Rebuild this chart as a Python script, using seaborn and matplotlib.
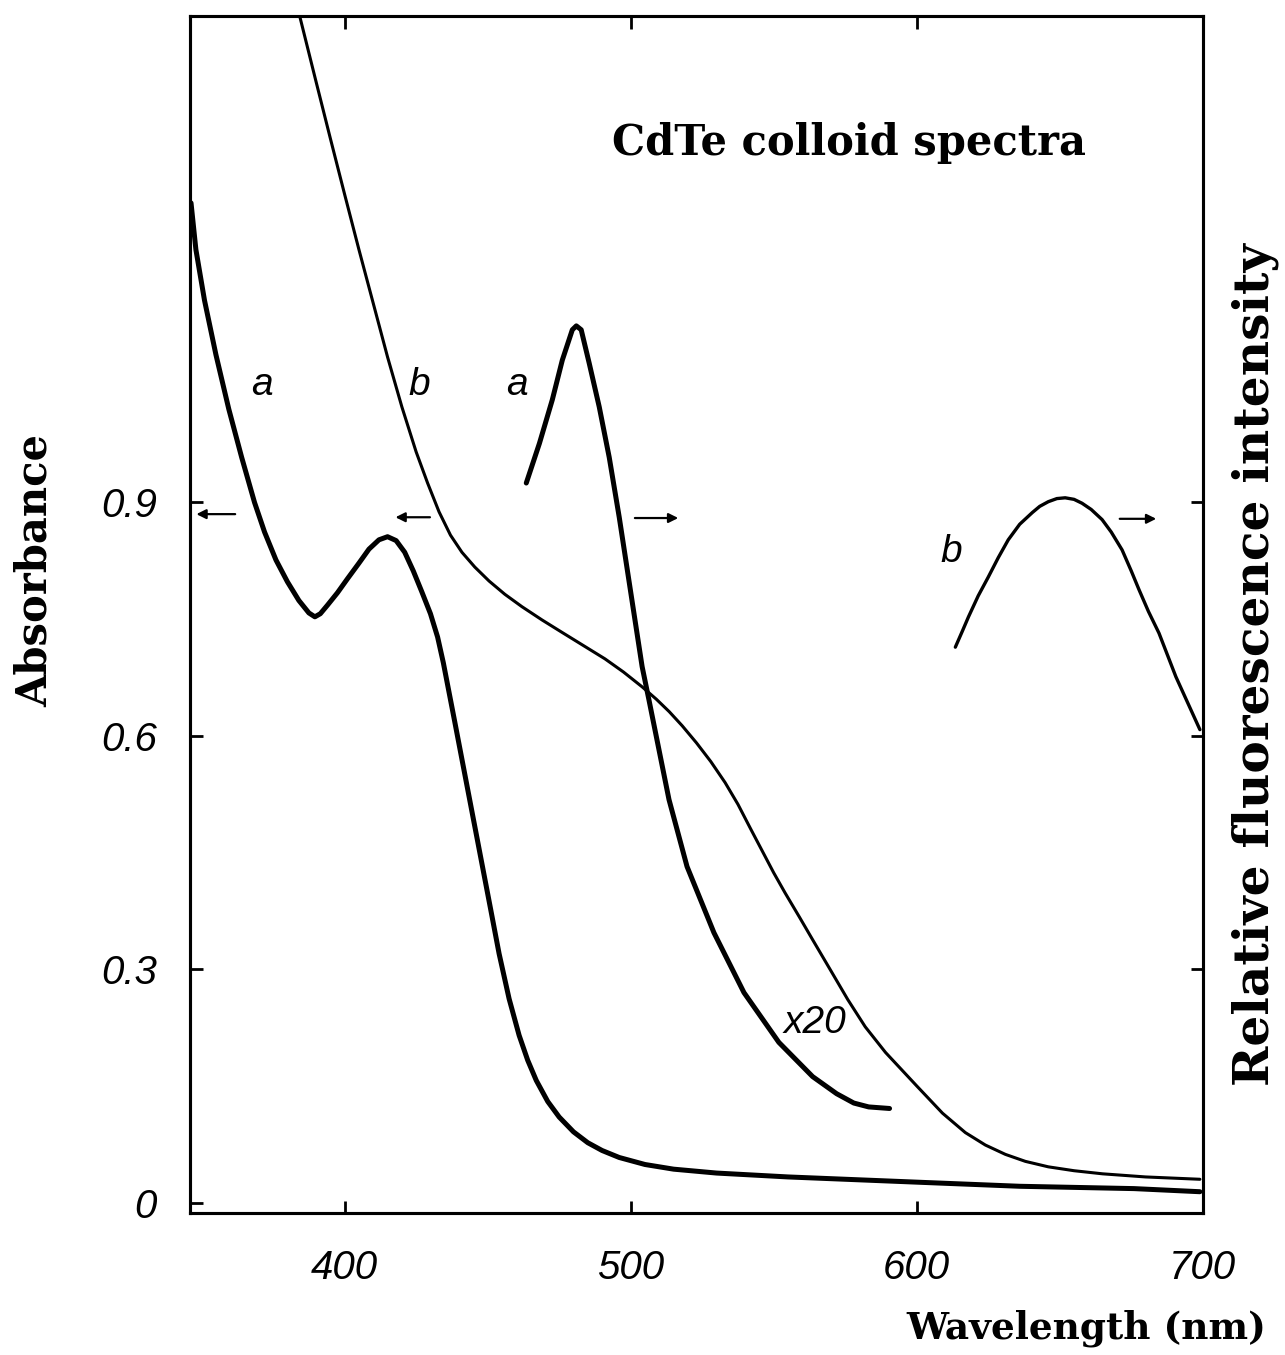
import matplotlib
matplotlib.use("Agg")
import matplotlib.pyplot as plt
import seaborn as sns

sns.set_theme(style="ticks")
plt.rcParams['font.family'] = ['DejaVu Sans']
plt.rcParams.update({"text.color": "black", "axes.labelcolor": "black",
                     "xtick.color": "black", "ytick.color": "black",
                     "axes.edgecolor": "black"})

# Absorbance spectrum a (small particles, thick line)
wl_abs_a = [346.3, 348.0, 351.0, 355.0, 359.5, 364.0, 368.5, 372.0, 376.0, 380.0,
            384.0, 387.5, 389.6, 391.5, 394.0, 397.5, 401.0, 405.0, 408.5, 412.0,
            415.0, 418.0, 421.0, 424.0, 427.0, 430.0, 432.5, 434.5, 436.5, 438.5,
            441.0, 443.5, 446.0, 448.5, 451.0, 454.0, 457.5, 461.0, 464.0, 467.0,
            471.0, 475.0, 480.0, 485.0, 490.0, 496.0, 505.0, 515.0, 530.0, 555.0,
            602.0, 636.0, 676.0, 699.0]
abs_a = [1.285, 1.225, 1.160, 1.090, 1.020, 0.958, 0.900, 0.862, 0.826, 0.798,
         0.774, 0.758, 0.753, 0.757, 0.768, 0.784, 0.802, 0.822, 0.840, 0.852,
         0.856, 0.851, 0.836, 0.812, 0.785, 0.757, 0.727, 0.694, 0.656, 0.618,
         0.570, 0.522, 0.474, 0.426, 0.378, 0.320, 0.262, 0.215, 0.183, 0.157,
         0.130, 0.110, 0.091, 0.077, 0.067, 0.058, 0.049, 0.043, 0.038, 0.033,
         0.026, 0.021, 0.018, 0.014]

# Absorbance spectrum b (larger particles, thin line)
wl_abs_b = [384.3, 390.0, 395.0, 400.0, 405.0, 410.0, 415.0, 420.0, 425.0, 429.0,
            433.0, 437.0, 441.0, 445.5, 450.5, 456.0, 462.0, 469.0, 476.0, 483.5,
            491.0, 497.5, 504.0, 509.0, 513.5, 518.0, 523.0, 528.0, 533.0, 537.5,
            542.0, 546.0, 550.0, 554.0, 559.0, 563.6, 570.0, 575.9, 582.0, 589.1,
            600.0, 609.0, 617.0, 624.0, 631.0, 638.0, 646.0, 655.0, 665.0, 680.0,
            699.0]
abs_b = [1.525, 1.441, 1.368, 1.296, 1.225, 1.156, 1.087, 1.023, 0.965, 0.925,
         0.888, 0.858, 0.836, 0.817, 0.799, 0.782, 0.766, 0.749, 0.733, 0.716,
         0.699, 0.682, 0.663, 0.647, 0.631, 0.613, 0.591, 0.567, 0.540, 0.512,
         0.480, 0.452, 0.424, 0.398, 0.367, 0.338, 0.298, 0.261, 0.226, 0.193,
         0.150, 0.115, 0.090, 0.074, 0.062, 0.053, 0.046, 0.041, 0.037, 0.033,
         0.030]

# Fluorescence spectrum a (scaled x20)
wl_fl_a = [463.5, 468.1, 472.6, 476.1, 479.6, 481.0, 482.7, 485.5, 489.0, 492.5,
           496.0, 499.5, 504.0, 506.4, 509.9, 513.4, 519.7, 529.1, 539.6, 551.8,
           563.6, 572.0, 578.0, 583.2, 590.5]
fl_a = [0.925, 0.976, 1.032, 1.083, 1.122, 1.127, 1.122, 1.079, 1.023, 0.958,
        0.881, 0.797, 0.689, 0.646, 0.582, 0.518, 0.432, 0.347, 0.270, 0.206,
        0.162, 0.140, 0.128, 0.123, 0.121]

# Fluorescence spectrum b
wl_fl_b = [613.5, 616.0, 618.1, 621.5, 625.0, 628.5, 632.0, 636.0, 640.4, 643.0,
           646.0, 649.0, 651.9, 655.0, 657.8, 661.0, 664.8, 668.0, 671.8, 675.0,
           677.7, 681.0, 684.7, 690.6, 699.0]
fl_b = [0.714, 0.735, 0.753, 0.780, 0.804, 0.829, 0.852, 0.872, 0.887, 0.895,
        0.901, 0.905, 0.906, 0.904, 0.899, 0.891, 0.878, 0.862, 0.839, 0.812,
        0.788, 0.760, 0.732, 0.676, 0.608]

abs_ticks = [0, 0.3, 0.6, 0.9]
abs_tick_labels = ["0", "0.3", "0.6", "0.9"]
wl_ticks = [400, 500, 600, 700]
wl_tick_labels = ["400", "500", "600", "700"]

XLIM = (346, 699.5)
YLIM = (-0.013, 1.525)

fig = plt.figure(figsize=(12.85, 13.55), dpi=100)
ax = fig.add_axes([0.148, 0.105, 0.788, 0.883])
ax2 = ax.twinx()

sns.lineplot(x=wl_abs_a, y=abs_a, ax=ax, color="black", lw=3.6, sort=False)
sns.lineplot(x=wl_abs_b, y=abs_b, ax=ax, color="black", lw=2.2, sort=False)
sns.lineplot(x=wl_fl_a, y=fl_a, ax=ax2, color="black", lw=3.6, sort=False)
sns.lineplot(x=wl_fl_b, y=fl_b, ax=ax2, color="black", lw=2.4, sort=False)

for a in (ax, ax2):
    a.set_xlim(*XLIM)
    a.set_ylim(*YLIM)
    for s in a.spines.values():
        s.set_linewidth(2.2)
        s.set_color("black")

ax.set_xticks(wl_ticks)
ax.set_xticklabels(wl_tick_labels)
ax.set_yticks(abs_ticks)
ax.set_yticklabels(abs_tick_labels)
ax.tick_params(axis="both", direction="in", length=9, width=2, color="black",
               labelsize=29, pad=24, top=True, labelcolor="black")
ax.tick_params(axis="x", pad=26)
ax2.set_yticks(abs_ticks[1:])
ax2.tick_params(axis="y", direction="in", length=9, width=2, labelright=False)
for lab in ax.get_xticklabels() + ax.get_yticklabels():
    lab.set_fontfamily("Liberation Sans")
    lab.set_fontstyle("italic")
ax.set_xlabel("")
ax.set_ylabel("")
ax2.set_ylabel("")

# Curve labels
lab_kw = dict(fontsize=28, fontstyle="italic", family="Liberation Sans",
              ha="center", va="center", color="black")
ax.text(371.1, 1.051, "a", **lab_kw)
ax.text(426.2, 1.051, "b", **lab_kw)
ax.text(460.4, 1.051, "a", **lab_kw)
ax.text(612.1, 0.836, "b", **lab_kw)
ax.text(564.3, 0.231, "x20", **lab_kw)

# Arrows pointing to the axis that each curve belongs to
arr = dict(arrowstyle="-|>", color="black", lw=1.6, mutation_scale=14)
ax.annotate("", xy=(347.2, 0.885), xytext=(362.7, 0.885), arrowprops=arr)
ax.annotate("", xy=(416.8, 0.881), xytext=(430.8, 0.881), arrowprops=arr)
ax.annotate("", xy=(517.6, 0.880), xytext=(500.5, 0.880), arrowprops=arr)
ax.annotate("", xy=(684.7, 0.879), xytext=(670.0, 0.879), arrowprops=arr)

ax.text(576.2, 1.362, "CdTe colloid spectra", fontsize=30, fontweight="bold",
        family="DejaVu Serif", ha="center", va="center", color="black")

fig.text(1266 / 1285, 1 - 1328 / 1355, "Wavelength (nm)", fontsize=27,
         fontweight="bold", family="DejaVu Serif", ha="right", va="center",
         color="black")
fig.text(35 / 1285, 1 - 570 / 1355, "Absorbance", fontsize=30,
         fontweight="bold", family="DejaVu Serif", ha="center", va="center",
         rotation=90, color="black")
fig.text(1255 / 1285, 1 - 665 / 1355, "Relative fluorescence intensity",
         fontsize=35, fontweight="bold", family="DejaVu Serif",
         ha="center", va="center", rotation=90, color="black")

fig.savefig("out.png", dpi=100, facecolor="white")
